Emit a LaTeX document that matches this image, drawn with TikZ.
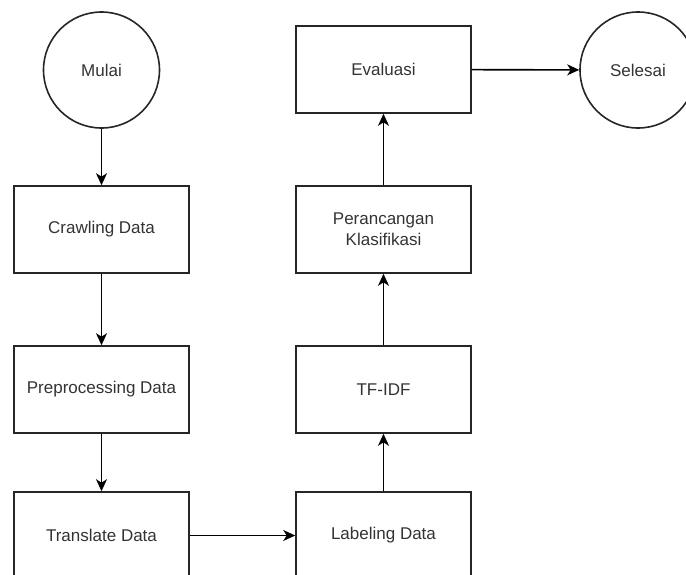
\documentclass[tikz,border=0pt]{standalone}
\usepackage{fontspec}
\setmainfont{Liberation Sans}
\usetikzlibrary{arrows.meta}
\definecolor{txt}{HTML}{333333}
\begin{document}
\begin{tikzpicture}[x=1pt,y=-1pt,
  box/.style={draw=black!85,line width=1.6pt,minimum width=175pt,minimum height=87pt,inner sep=0pt,
    font=\fontsize{17}{21}\selectfont,text=txt,align=center},
  term/.style={circle,draw=black!85,line width=1.6pt,minimum size=116pt,inner sep=0pt,
    font=\fontsize{17}{21}\selectfont,text=txt},
  arr/.style={line width=1.6pt,-{Stealth[length=12pt,width=11pt,inset=3.5pt]}}]
\useasboundingbox (0,0) rectangle (686,574);
\clip (0,0) rectangle (686,574);
\node[term] (mulai) at (101.5,70) {Mulai};
\node[box] (crawl) at (101.5,229.5) {Crawling Data};
\node[box] (prep) at (101.5,389.5) {Preprocessing Data};
\node[box] (trans) at (101.5,535.5) {Translate Data};
\node[box] (label) at (383.5,535.5) {Labeling Data};
\node[box] (tfidf) at (383.5,389.5) {TF-IDF};
\node[box] (peran) at (383.5,229.5) {Perancangan\\Klasifikasi};
\node[box] (eval) at (383.5,69.5) {Evaluasi};
\node[term] (selesai) at (638,70) {Selesai};
\draw[arr] (mulai) -- (crawl);
\draw[arr] (crawl) -- (prep);
\draw[arr] (prep) -- (trans);
\draw[arr] (trans) -- (label);
\draw[arr] (label) -- (tfidf);
\draw[arr] (tfidf) -- (peran);
\draw[arr] (peran) -- (eval);
\draw[arr] (eval) -- (selesai);
\end{tikzpicture}
\end{document}
